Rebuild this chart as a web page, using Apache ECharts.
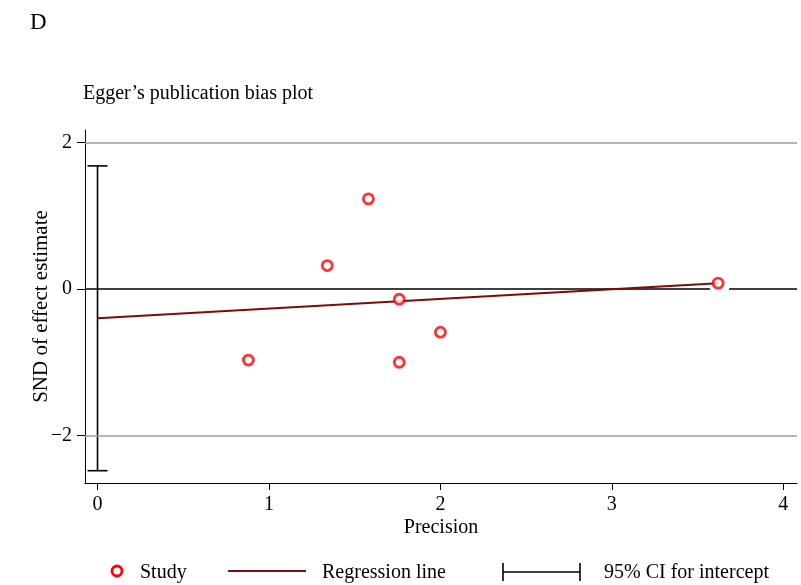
<!DOCTYPE html>
<html>
<head>
<meta charset="utf-8">
<script src="https://cdn.jsdelivr.net/npm/echarts@6/dist/echarts.min.js"></script>
<style>html,body{margin:0;padding:0;background:#fff}#c{width:801px;height:585px}</style>
</head>
<body>
<div id="c"></div>
<script>
// ---- data ----
const precision = [0.88, 1.34, 1.58, 1.76, 1.76, 2.00, 3.62];
const snd       = [-0.97, 0.32, 1.23, -0.14, -1.00, -0.59, 0.08];
const regressionX = [0, 3.62];
const regressionY = [-0.40, 0.08];
const ciIntercept = [0, -2.48, 1.68]; // x, lower, upper
const xTicks = [0, 1, 2, 3, 4];
const yTicks = [-2, 0, 2];
const yGridValues = [-2, 2];
const xRange = [-0.073, 4.08];
const yRange = [-2.648, 2.17];
const zeroLineBreak = [3.573, 3.684];

const FONT = "'Liberation Serif','Times New Roman',serif";
const RED = '#ff0000';
const MAROON = '#7f0a0a';

const chart = echarts.init(document.getElementById('c'), null, {renderer: 'canvas'});

const studyData = precision.map((p, i) => [p, snd[i]]);
const regData = regressionX.map((x, i) => [x, regressionY[i]]);
const zeroData = [[xRange[0], 0], [zeroLineBreak[0], 0], [(zeroLineBreak[0] + zeroLineBreak[1]) / 2, '-'], [zeroLineBreak[1], 0], [xRange[1], 0]];

const option = {
  animation: false,
  backgroundColor: '#fff',
  grid: {left: 85, right: 4, top: 130, bottom: 102, containLabel: false},
  xAxis: {
    type: 'value', min: xRange[0], max: xRange[1],
    name: 'Precision', nameLocation: 'middle', nameGap: 35, nameMoveOverlap: false,
    nameTextStyle: {fontFamily: FONT, fontSize: 20, color: '#000'},
    axisLine: {show: true, onZero: false, lineStyle: {color: '#000', width: 1}},
    axisTick: {show: true, length: 7, lineStyle: {color: '#000'}, customValues: xTicks},
    axisLabel: {fontFamily: FONT, fontSize: 20, color: '#000', margin: 12, customValues: xTicks},
    splitLine: {show: false}
  },
  yAxis: {
    type: 'value', min: yRange[0], max: yRange[1],
    name: 'SND of effect estimate', nameLocation: 'middle', nameGap: 33, nameMoveOverlap: false,
    nameTextStyle: {fontFamily: FONT, fontSize: 21, color: '#000'},
    axisLine: {show: true, onZero: false, lineStyle: {color: '#000', width: 1}},
    axisTick: {show: true, length: 8, lineStyle: {color: '#000'}, customValues: yTicks},
    axisLabel: {fontFamily: FONT, fontSize: 20, color: '#000', margin: 13, customValues: yTicks,
      formatter: v => String(v).replace('-', '\u2212')},
    splitLine: {show: false}
  },
  series: [
    {
      type: 'line', name: 'zero', data: zeroData, symbol: 'none', connectNulls: false,
      lineStyle: {color: '#000', width: 1.6}, z: 1, silent: true,
      markLine: {
        silent: true, symbol: 'none', label: {show: false},
        lineStyle: {color: '#9a9a9a', width: 1.6, type: 'solid'},
        data: yGridValues.map(v => ({yAxis: v}))
      }
    },
    {
      type: 'custom', name: '95% CI for intercept', data: [ciIntercept], z: 3,
      renderItem: function (params, api) {
        const lo = api.coord([api.value(0), api.value(1)]);
        const hi = api.coord([api.value(0), api.value(2)]);
        const hw = 10;
        const style = {stroke: '#000', lineWidth: 1.6};
        return {type: 'group', children: [
          {type: 'line', shape: {x1: lo[0], y1: lo[1], x2: hi[0], y2: hi[1]}, style: style},
          {type: 'line', shape: {x1: lo[0] - hw, y1: lo[1], x2: lo[0] + hw, y2: lo[1]}, style: style},
          {type: 'line', shape: {x1: hi[0] - hw, y1: hi[1], x2: hi[0] + hw, y2: hi[1]}, style: style}
        ]};
      }
    },
    {
      type: 'line', name: 'Regression line', data: regData, symbol: 'none',
      lineStyle: {color: MAROON, width: 2}, z: 4
    },
    {
      type: 'scatter', name: 'Study', data: studyData, symbol: 'circle', symbolSize: 10,
      itemStyle: {color: '#fff', borderColor: RED, borderWidth: 2.8}, z: 5
    }
  ],
  graphic: [
    {type: 'text', left: 30, top: 11, style: {text: 'D', font: '23px ' + FONT, fill: '#000'}},
    {type: 'text', left: 83, top: 84, style: {text: 'Egger\u2019s publication bias plot', font: '20px ' + FONT, fill: '#000'}},
    // legend
    {type: 'circle', shape: {cx: 117, cy: 571, r: 5}, style: {fill: '#fff', stroke: RED, lineWidth: 2.8}},
    {type: 'text', x: 140, y: 573, style: {text: 'Study', font: '20px ' + FONT, fill: '#000', verticalAlign: 'middle'}},
    {type: 'line', shape: {x1: 228, y1: 571, x2: 306, y2: 571}, style: {stroke: MAROON, lineWidth: 2}},
    {type: 'text', x: 322, y: 573, style: {text: 'Regression line', font: '20px ' + FONT, fill: '#000', verticalAlign: 'middle'}},
    {type: 'line', shape: {x1: 503, y1: 572, x2: 580, y2: 572}, style: {stroke: '#000', lineWidth: 1.6}},
    {type: 'line', shape: {x1: 503, y1: 563, x2: 503, y2: 581}, style: {stroke: '#000', lineWidth: 1.6}},
    {type: 'line', shape: {x1: 580, y1: 563, x2: 580, y2: 581}, style: {stroke: '#000', lineWidth: 1.6}},
    {type: 'text', x: 604, y: 573, style: {text: '95% CI for intercept', font: '20px ' + FONT, fill: '#000', verticalAlign: 'middle'}}
  ]
};
chart.setOption(option);
</script>
</body>
</html>
